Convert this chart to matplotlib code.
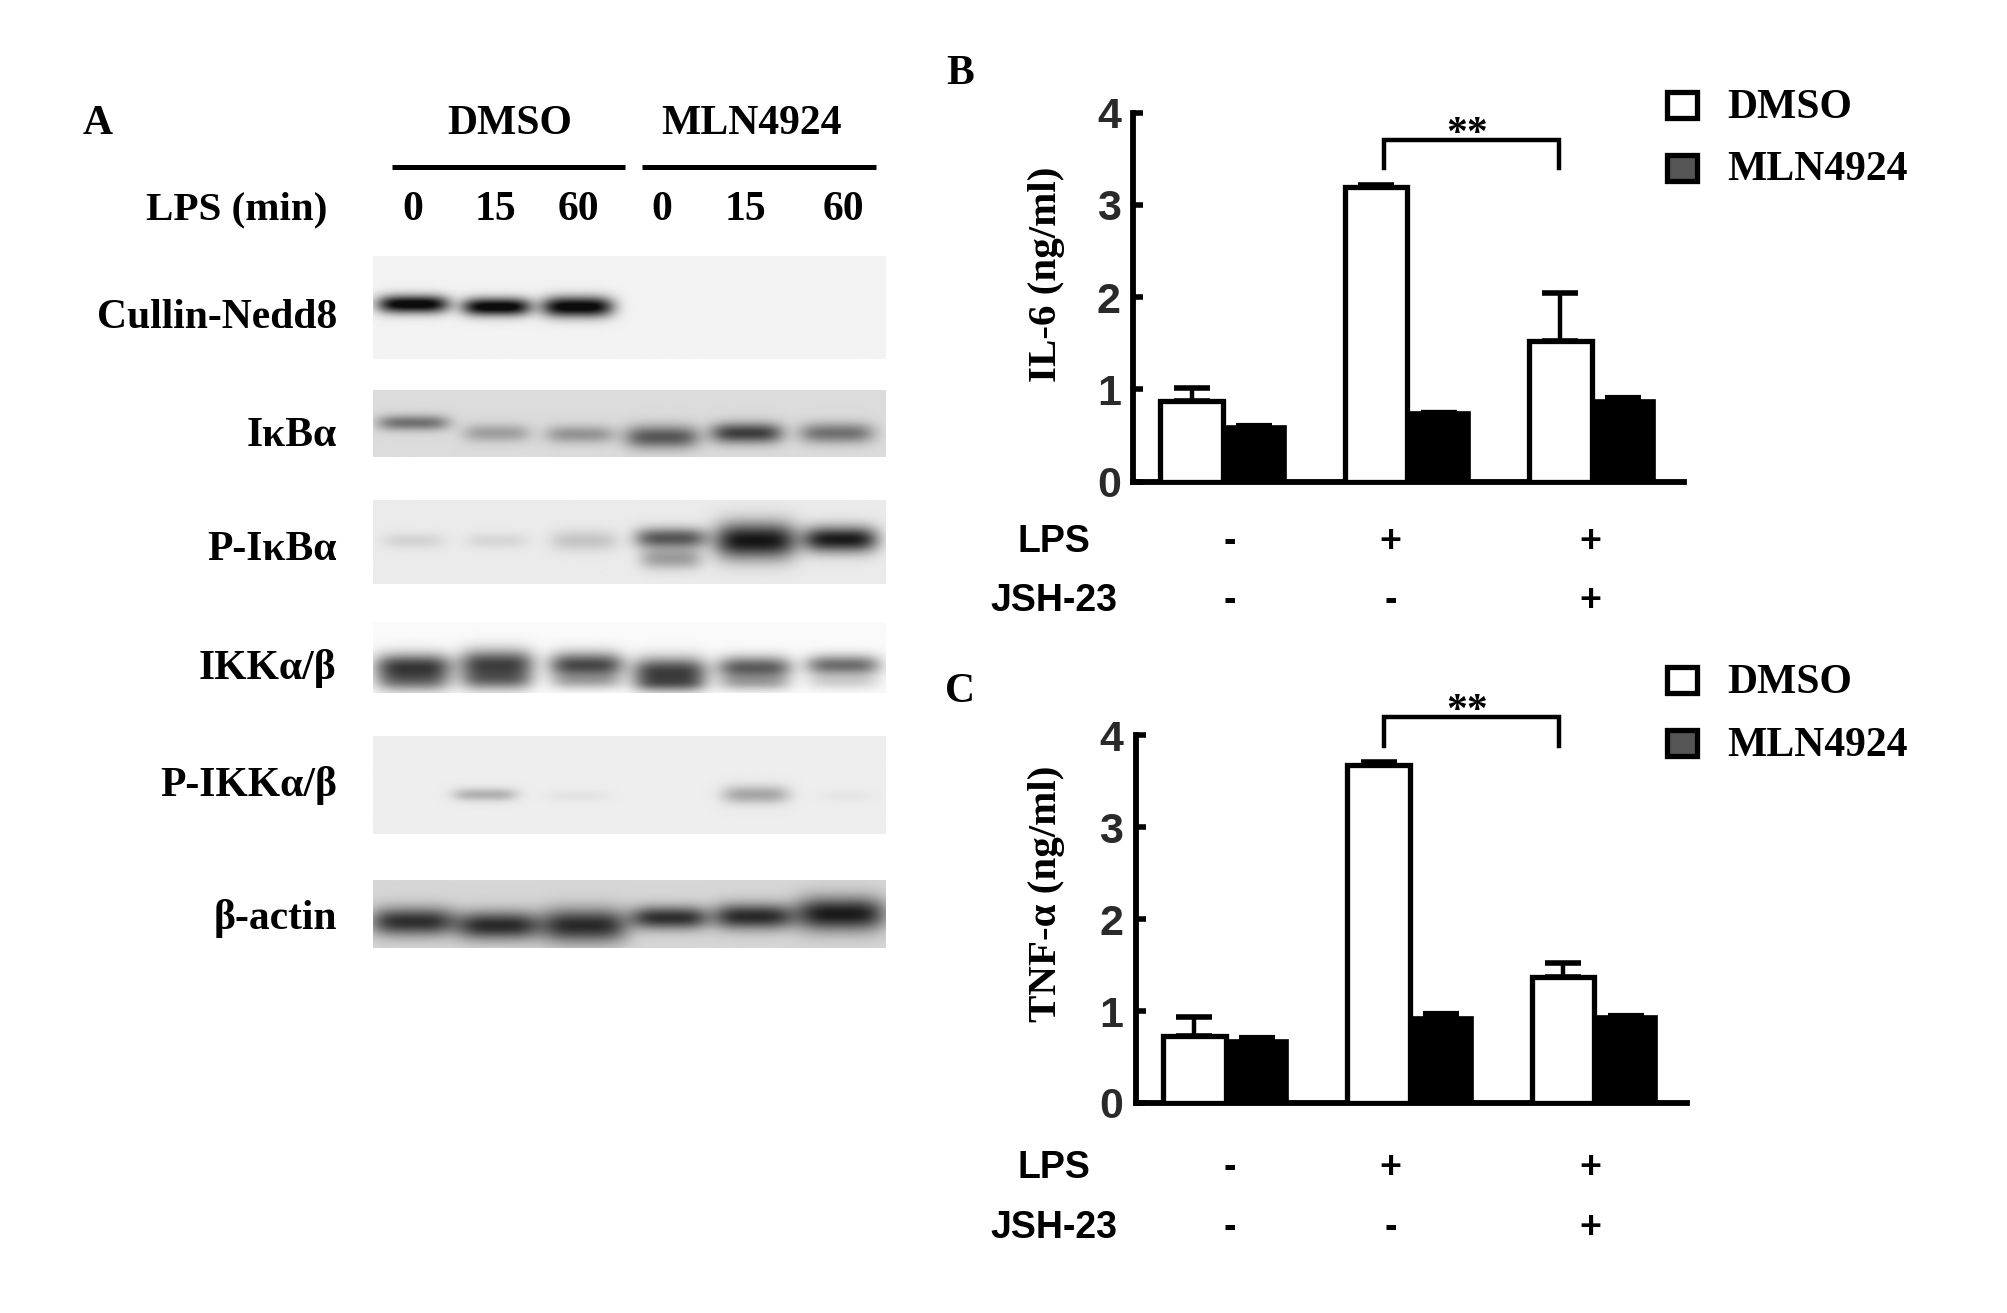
#!/usr/bin/env python3
import numpy as np
import matplotlib
matplotlib.use('Agg')
import matplotlib.pyplot as plt
from matplotlib.patches import Rectangle

# bar data
groups = [0, 1, 2]
lps_marks = ['-', '+', '+']
jsh_marks = ['-', '-', '+']
il6_dmso = [0.87, 3.20, 1.52]
il6_dmso_err = [0.15, 0.02, 0.53]
il6_mln = [0.60, 0.75, 0.88]
il6_mln_err = [0.01, 0.01, 0.04]
tnf_dmso = [0.73, 3.68, 1.37]
tnf_dmso_err = [0.20, 0.03, 0.15]
tnf_mln = [0.68, 0.93, 0.95]
tnf_mln_err = [0.04, 0.05, 0.01]
y_ticks = [0, 1, 2, 3, 4]

# blot bands: centre x, centre y, half width, half height, darkness
cullin_bands = [(322, 237, 28, 7, 0.98), (387, 239, 27, 7, 0.98), (450, 239, 28, 8, 0.98)]
ikba_bands = [(322, 330, 28, 6, 0.42), (387, 338, 26, 7, 0.24), (452, 339, 27, 7, 0.28),
              (516, 341, 29, 9, 0.52), (582, 338, 28, 8, 0.62), (652, 338, 29, 8, 0.42)]
pikba_bands = [(322, 422, 24, 6, 0.09), (387, 422, 24, 6, 0.08), (455, 422, 26, 8, 0.15),
               (523, 420, 28, 8, 0.58), (523, 436, 24, 8, 0.30), (589, 422, 32, 14, 0.84),
               (655, 421, 29, 10, 0.82)]
ikk_bands = [(322, 520, 30, 10, 0.72), (322, 532, 29, 8, 0.40), (387, 518, 29, 11, 0.70),
             (387, 531, 28, 8, 0.42), (457, 519, 29, 10, 0.70), (457, 532, 28, 6, 0.22),
             (522, 524, 29, 11, 0.72), (522, 534, 28, 6, 0.32), (588, 521, 29, 9, 0.62),
             (588, 533, 28, 6, 0.25), (657, 519, 29, 8, 0.55), (657, 532, 28, 6, 0.14)]
pikk_bands = [(378, 620, 25, 5, 0.24), (450, 621, 24, 4, 0.04), (589, 620, 26, 7, 0.28),
              (660, 621, 22, 4, 0.03)]
actin_bands = [(322, 719, 33, 11, 0.66), (388, 722, 32, 11, 0.68), (455, 722, 34, 13, 0.68),
               (522, 716, 30, 9, 0.66), (587, 715, 31, 10, 0.68), (655, 713, 35, 13, 0.74)]

blot_names = ['Cullin-Nedd8', 'IκBα', 'P-IκBα', 'IKKα/β', 'P-IKKα/β', 'β-actin']
blot_label_y = [248, 340, 429, 522, 613, 717]
blot_boxes = [(200, 280, 0.95), (305, 357, 0.86), (391, 456, 0.92),
              (486, 541, 0.98), (575, 651, 0.93), (687, 740, 0.84)]
blot_bands = [cullin_bands, ikba_bands, pikba_bands, ikk_bands, pikk_bands, actin_bands]

lane_labels = ['0', '15', '60', '0', '15', '60']
lane_x = [322, 387, 452, 517, 582, 659]

SERIF = 'Liberation Serif'
SANS = 'Liberation Sans'
W, H = 1568.0, 1025.0  # layout is worked out in the shrunk reference's coordinates

fig = plt.figure(figsize=(20.08, 13.13), dpi=100, facecolor='white')
over = fig.add_axes([0, 0, 1, 1], zorder=5)
over.patch.set_alpha(0)
over.axis('off')


def draw_blot(top, bottom, bg, bands):
    xs = np.arange(291, 691, 1.0)
    ys = np.arange(top, bottom, 1.0)
    xx, yy = np.meshgrid(xs, ys)
    img = np.full(xx.shape, bg)
    for cx, cy, wx, wy, dark in bands:
        img -= dark * np.exp(-((xx - cx) / wx) ** 4) * np.exp(-((yy - cy) / wy) ** 2)
    over.imshow(np.clip(img, 0.05, 1), cmap='gray', vmin=0, vmax=1, aspect='auto',
                extent=(291, 691, bottom, top), interpolation='bilinear')


for (top, bottom, bg), bands, name, ly in zip(blot_boxes, blot_bands, blot_names, blot_label_y):
    draw_blot(top, bottom, bg, bands)
    over.text(263, ly, name, family=SERIF, weight='bold', fontsize=30, ha='right', va='center')

over.set_xlim(0, W)
over.set_ylim(H, 0)

# panel A header
over.text(76, 97, 'A', family=SERIF, weight='bold', fontsize=30, ha='center', va='center')
over.text(398, 97, 'DMSO', family=SERIF, weight='bold', fontsize=30, ha='center', va='center')
over.text(587, 97, 'MLN4924', family=SERIF, weight='bold', fontsize=30, ha='center', va='center')
over.text(256, 164, 'LPS (min)', family=SERIF, weight='bold', fontsize=29.5, ha='right', va='center')
over.plot([306, 488], [130, 130], color='black', lw=3.6, solid_capstyle='butt')
over.plot([501, 684], [130, 130], color='black', lw=3.6, solid_capstyle='butt')
for lx, lab in zip(lane_x, lane_labels):
    over.text(lx, 164, lab, family=SERIF, weight='bold', fontsize=30, ha='center', va='center')


def draw_bars(left, right, y4, y0, first_center, dmso, dmso_err, mln, mln_err):
    ax = fig.add_axes([left / W, 1 - y0 / H, (right - left) / W, (y0 - y4) / H])
    step = 144.0
    width = 49.0 / step
    x = np.array(groups)
    ax.errorbar(x - width / 2, dmso, yerr=[[0] * 3, dmso_err], fmt='none', ecolor='black',
                elinewidth=3.2, capsize=13, capthick=4, zorder=2)
    ax.errorbar(x + width / 2, mln, yerr=[[0] * 3, mln_err], fmt='none', ecolor='black',
                elinewidth=3.2, capsize=13, capthick=3, zorder=2)
    ax.bar(x - width / 2, dmso, width, color='white', edgecolor='black', linewidth=3.8, zorder=3)
    ax.bar(x + width / 2, mln, width, color='black', edgecolor='black', linewidth=1.2, zorder=3)
    ax.set_xlim((left - first_center) / step, (right - first_center) / step)
    ax.set_ylim(0, 4)
    ax.set_xticks([])
    ax.set_yticks(y_ticks)
    ax.tick_params(axis='y', direction='in', length=7, width=4, pad=9)
    for lab in ax.get_yticklabels():
        lab.set_family(SANS)
        lab.set_weight('bold')
        lab.set_fontsize(31)
        lab.set_color('#2a2a2a')
    for side in ['top', 'right']:
        ax.spines[side].set_visible(False)
    for side in ['left', 'bottom']:
        ax.spines[side].set_linewidth(4.2)
    ax.patch.set_alpha(0)
    return ax


draw_bars(885, 1315, 88, 376, 955, il6_dmso, il6_dmso_err, il6_mln, il6_mln_err)
draw_bars(887, 1317, 574, 861, 957, tnf_dmso, tnf_dmso_err, tnf_mln, tnf_mln_err)


def panel_text(letter, letter_y, ylab, ylab_y, leg_y, bracket_y, lps_y, jsh_y):
    over.text(750, letter_y, letter, family=SERIF, weight='bold', fontsize=30, ha='center', va='center')
    over.text(817, ylab_y, ylab, family=SERIF, weight='bold', fontsize=29.5, rotation=90,
              ha='center', va='center')
    # legend
    over.add_patch(Rectangle((1302, leg_y[0] - 10), 23, 20, facecolor='white', edgecolor='black', lw=3.8))
    over.add_patch(Rectangle((1302, leg_y[1] - 10), 23, 20, facecolor='#555555', edgecolor='black', lw=3.8))
    over.text(1349, leg_y[0] + 2, 'DMSO', family=SERIF, weight='bold', fontsize=30, ha='left', va='center')
    over.text(1349, leg_y[1] + 2, 'MLN4924', family=SERIF, weight='bold', fontsize=30, ha='left', va='center')
    # significance bracket
    over.plot([1081, 1081, 1217, 1217], [bracket_y + 22, bracket_y, bracket_y, bracket_y + 22],
              color='black', lw=3.2, solid_joinstyle='miter')
    over.text(1146, bracket_y - 4, '**', family=SERIF, weight='bold', fontsize=30, ha='center', va='center')
    # treatment table
    over.text(823, lps_y + 2, 'LPS', family=SANS, weight='bold', fontsize=27, ha='center', va='center')
    over.text(823, jsh_y + 2, 'JSH-23', family=SANS, weight='bold', fontsize=27, ha='center', va='center')
    for mx, m1, m2 in zip([960, 1086, 1242], lps_marks, jsh_marks):
        over.text(mx, lps_y + 2, m1, family=SANS, weight='bold', fontsize=27, ha='center', va='center')
        over.text(mx, jsh_y + 2, m2, family=SANS, weight='bold', fontsize=27, ha='center', va='center')


panel_text('B', 58, 'IL-6 (ng/ml)', 214, (82, 131), 109, 421, 467)
panel_text('C', 540, 'TNF-α (ng/ml)', 698, (531, 580), 560, 910, 957)

plt.savefig('out.png', dpi=100)
